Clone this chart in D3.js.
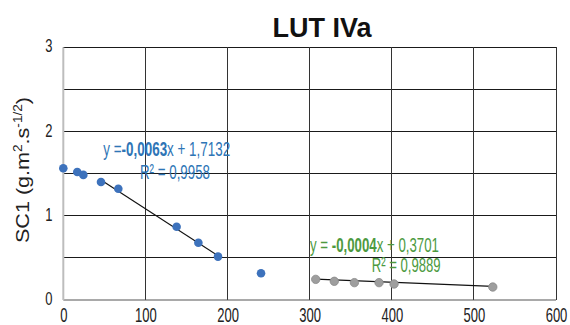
<!DOCTYPE html>
<html><head><meta charset="utf-8">
<script src="https://cdn.jsdelivr.net/npm/d3@7"></script>
<style>body{margin:0;background:#fff}svg{display:block}</style>
</head><body><div id="chart"></div>
<script>
const title = "LUT IVa";
const yLabel = "SC1";
const xTicks = [0,100,200,300,400,500,600];
const yTicks = [0,1,2,3];
const blueX = [0,17,24.4,45.9,67,138,164.5,188.4,240.8];
const blueY = [1.564,1.52,1.485,1.40,1.32,0.87,0.68,0.515,0.317];
const grayX = [307.4,330,354.5,384.5,402.8,523];
const grayY = [0.245,0.222,0.206,0.206,0.19,0.154];
const trend1 = {slope:-0.0063, intercept:1.7132, x0:45.9, x1:188.4};
const trend2 = {slope:-0.0004, intercept:0.3701, x0:307.4, x1:523};

const W=570,H=325;
const svg=d3.select("#chart").append("svg").attr("width",W).attr("height",H)
  .style("font-family","'Liberation Sans', Arial, sans-serif");
const x=d3.scaleLinear().domain([0,600]).range([63.3,556]);
const y=d3.scaleLinear().domain([0,3]).range([300,47.3]);

// gridlines
const g=svg.append("g");
g.selectAll("line.h").data(d3.range(0.5,3.01,0.5)).join("line")
 .attr("x1",x(0)).attr("x2",x(600)).attr("y1",d=>y(d)).attr("y2",d=>y(d))
 .attr("stroke","#1a1a1a").attr("stroke-width",1).attr("shape-rendering","crispEdges");
g.selectAll("line.v").data(xTicks.slice(1)).join("line")
 .attr("x1",d=>x(d)).attr("x2",d=>x(d)).attr("y1",y(0)).attr("y2",y(3))
 .attr("stroke","#333").attr("stroke-width",1).attr("shape-rendering","crispEdges");
// bottom axis
svg.append("line").attr("x1",x(0)).attr("x2",x(600)).attr("y1",y(0)).attr("y2",y(0))
 .attr("stroke","#555").attr("stroke-width",1.2);
// left axis
svg.append("line").attr("x1",x(0)).attr("x2",x(0)).attr("y1",y(0)).attr("y2",y(3))
 .attr("stroke","#bdbdbd").attr("stroke-width",2);

// x tick labels
const xa=d3.axisBottom(x).tickValues(xTicks).tickSize(0).tickPadding(0).tickFormat(d3.format("d"));
const xg=svg.append("g").attr("transform",`translate(0,${y(0)})`).call(xa);
xg.select(".domain").remove();
xg.selectAll("text").attr("y",0).attr("dy",0)
  .attr("transform","translate(0,21.5) scale(0.62,1)")
  .attr("font-size",21).attr("fill","#222").attr("font-family","'Liberation Sans', Arial, sans-serif");

// y tick labels
const ya=d3.axisLeft(y).tickValues(yTicks).tickSize(0).tickPadding(0).tickFormat(d3.format("d"));
const yg=svg.append("g").attr("transform",`translate(52.5,0)`).call(ya);
yg.select(".domain").remove();
yg.selectAll("text").attr("x",0).attr("dy",0).attr("text-anchor","end")
  .attr("transform","translate(0,4.5) scale(0.72,1)")
  .attr("font-size",18).attr("fill","#222").attr("font-family","'Liberation Sans', Arial, sans-serif");

// title
svg.append("text").attr("x",322).attr("y",37).attr("text-anchor","middle")
 .attr("font-size",27).attr("font-weight","bold").attr("fill","#111")
 .attr("textLength",99).attr("lengthAdjust","spacingAndGlyphs").text(title);

// y label
const yl=svg.append("text").attr("transform","translate(29,170) rotate(-90)")
 .attr("text-anchor","middle").attr("font-size",19).attr("fill","#222")
 .attr("textLength",146).attr("lengthAdjust","spacingAndGlyphs");
yl.append("tspan").text(yLabel+" (g.m");
yl.append("tspan").attr("font-size",12).attr("dy",-7).text("2");
yl.append("tspan").attr("dy",7).text(".s");
yl.append("tspan").attr("font-size",12).attr("dy",-7).text("-1/2");
yl.append("tspan").attr("dy",7).text(")");

// trend lines
[trend1,trend2].forEach(t=>{
  svg.append("line").attr("x1",x(t.x0)).attr("x2",x(t.x1))
   .attr("y1",y(t.slope*t.x0+t.intercept)).attr("y2",y(t.slope*t.x1+t.intercept))
   .attr("stroke","#111").attr("stroke-width",1.2);
});

// points
svg.append("g").selectAll("circle").data(blueX.map((v,i)=>[v,blueY[i]])).join("circle")
 .attr("cx",d=>x(d[0])).attr("cy",d=>y(d[1])).attr("r",4.3).attr("fill","#3d72bc");
svg.append("g").selectAll("circle").data(grayX.map((v,i)=>[v,grayY[i]])).join("circle")
 .attr("cx",d=>x(d[0])).attr("cy",d=>y(d[1])).attr("r",4.2).attr("fill","#9e9e9e").attr("stroke","#888").attr("stroke-width",0.8);

// equation labels
function eq(xp,yp,len,color,pre,bold,post){
  const t=svg.append("text").attr("x",0).attr("y",0).attr("font-size",21).attr("fill",color);
  t.append("tspan").text(pre);
  if(bold) t.append("tspan").attr("font-weight","bold").text(bold);
  if(post) t.append("tspan").text(post);
  const nat=t.node().getComputedTextLength();
  t.attr("transform",`translate(${xp},${yp}) scale(${len/nat},1)`);
}
eq(103.3,156,127,"#2e75b6","y =","-0,0063","x + 1,7132");
eq(140,178.5,70,"#2e75b6","R² = 0,9958","","");
eq(310,251.5,129,"#4d9a3f","y = ","-0,0004","x + 0,3701");
eq(371.7,272,69,"#4d9a3f","R² = 0,9889","","");
</script></body></html>
